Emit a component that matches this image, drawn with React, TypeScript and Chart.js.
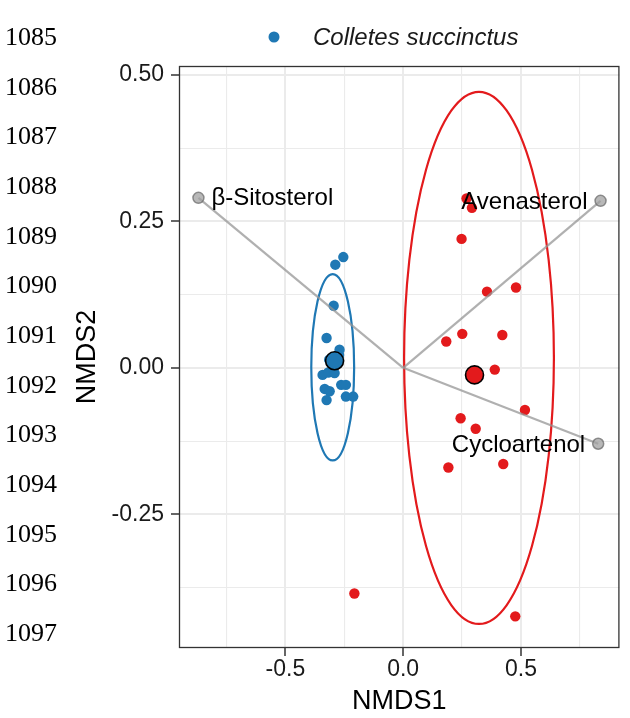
import React, { useEffect, useRef } from "react";
import { Chart, registerables } from "chart.js";

Chart.register(...registerables);

// ---- data ----
const lineNumbers = [1085, 1086, 1087, 1088, 1089, 1090, 1091, 1092, 1093, 1094, 1095, 1096, 1097];

const legendLabel = "Colletes succinctus";

const blueX = [-0.254, -0.288, -0.295, -0.325, -0.270, -0.342, -0.318, -0.291, -0.263, -0.243, -0.333, -0.312, -0.325, -0.243, -0.212, -0.314, -0.272, -0.300];
const blueY = [0.189, 0.176, 0.106, 0.051, 0.031, -0.012, -0.008, -0.009, -0.029, -0.029, -0.036, -0.040, -0.055, -0.049, -0.049, 0.014, 0.022, 0.005];

const redX = [0.269, 0.292, 0.248, 0.356, 0.479, 0.183, 0.251, 0.421, 0.389, 0.517, 0.244, 0.308, 0.192, 0.425, -0.207, 0.476];
const redY = [0.289, 0.273, 0.220, 0.130, 0.137, 0.045, 0.058, 0.056, -0.003, -0.072, -0.086, -0.104, -0.170, -0.164, -0.385, -0.424];

const centroidX = [-0.291, 0.303];
const centroidY = [0.012, -0.012];

const vectorNames = ["β-Sitosterol", "Avenasterol", "Cycloartenol"];
const vectorX = [-0.869, 0.838, 0.828];
const vectorY = [0.290, 0.285, -0.1295];

const ellipseCX = [-0.299, 0.322];
const ellipseCY = [0.001, 0.017];
const ellipseRX = [0.091, 0.318];
const ellipseRY = [0.159, 0.454];

const xMajorTicks = [-0.5, 0, 0.5];
const xMinorTicks = [-0.75, -0.25, 0.25, 0.75];
const yMajorTicks = [-0.25, 0, 0.25, 0.5];
const yMinorTicks = [-0.375, -0.125, 0.125, 0.375];

const X_MIN = -0.9515;
const X_MAX = 0.918;
const Y_MIN = -0.478;
const Y_MAX = 0.515;

const BLUE = "#1F78B4";
const RED = "#E31A1C";
const groupColors = [BLUE, RED];

const SANS = "'Liberation Sans', Arial, sans-serif";

const ellipsePlugin = {
  id: "ellipses",
  beforeDatasetsDraw(chart: any) {
    const { ctx, chartArea, scales } = chart;
    const xs = scales.x;
    const ys = scales.y;
    ctx.save();
    ctx.beginPath();
    ctx.rect(chartArea.left, chartArea.top, chartArea.right - chartArea.left, chartArea.bottom - chartArea.top);
    ctx.clip();
    for (let i = 0; i < ellipseCX.length; i++) {
      const cx = xs.getPixelForValue(ellipseCX[i]);
      const cy = ys.getPixelForValue(ellipseCY[i]);
      const rx = Math.abs(xs.getPixelForValue(ellipseCX[i] + ellipseRX[i]) - cx);
      const ry = Math.abs(ys.getPixelForValue(ellipseCY[i] + ellipseRY[i]) - cy);
      ctx.beginPath();
      ctx.ellipse(cx, cy, rx, ry, 0, 0, Math.PI * 2);
      ctx.strokeStyle = groupColors[i];
      ctx.lineWidth = 2.2;
      ctx.stroke();
    }
    ctx.restore();
  },
  afterDatasetsDraw(chart: any) {
    const { ctx, chartArea, scales } = chart;
    const xs = scales.x;
    const ys = scales.y;
    ctx.save();
    // vector labels
    ctx.font = `24px ${SANS}`;
    ctx.fillStyle = "#000000";
    ctx.textBaseline = "middle";
    for (let i = 0; i < vectorNames.length; i++) {
      const px = xs.getPixelForValue(vectorX[i]);
      const py = ys.getPixelForValue(vectorY[i]);
      if (vectorX[i] < 0) {
        ctx.textAlign = "left";
        ctx.fillText(vectorNames[i], px + 13, py + 1);
      } else {
        ctx.textAlign = "right";
        ctx.fillText(vectorNames[i], px - 13, py + 2);
      }
    }
    // panel border
    ctx.strokeStyle = "#333333";
    ctx.lineWidth = 1.3;
    ctx.strokeRect(chartArea.left + 0.5, chartArea.top + 0.5, chartArea.right - chartArea.left - 1, chartArea.bottom - chartArea.top - 1);
    ctx.restore();
  },
  afterDraw(chart: any) {
    const { ctx } = chart;
    ctx.save();
    ctx.beginPath();
    ctx.arc(274, 37, 5.5, 0, Math.PI * 2);
    ctx.fillStyle = BLUE;
    ctx.fill();
    ctx.font = `italic 24px ${SANS}`;
    ctx.fillStyle = "#1a1a1a";
    ctx.textAlign = "left";
    ctx.textBaseline = "middle";
    ctx.fillText(legendLabel, 313, 38);
    ctx.restore();
  },
};

function pts(xs: number[], ys: number[]) {
  return xs.map((x, i) => ({ x, y: ys[i] }));
}

export default function App() {
  const canvasRef = useRef<HTMLCanvasElement | null>(null);

  useEffect(() => {
    document.body.style.margin = "0";
    const canvas = canvasRef.current;
    if (!canvas) return;

    const segmentDatasets = vectorNames.map((name, i) => ({
      label: name,
      data: [
        { x: 0, y: 0 },
        { x: vectorX[i], y: vectorY[i] },
      ],
      showLine: true,
      borderColor: "rgba(150,150,150,0.75)",
      borderWidth: 2.2,
      pointRadius: (c: any) => (c.dataIndex === 1 ? 5.5 : 0),
      pointBackgroundColor: "rgba(160,160,160,0.75)",
      pointBorderColor: "rgba(110,110,110,0.75)",
      pointBorderWidth: 1.5,
      order: 0,
    }));

    const centroidDatasets = centroidX.map((cx, i) => ({
      label: i === 0 ? "centroid blue" : "centroid red",
      data: [{ x: cx, y: centroidY[i] }],
      pointRadius: 9,
      pointBackgroundColor: groupColors[i],
      pointBorderColor: "#000000",
      pointBorderWidth: 1.6,
      showLine: false,
      order: 1,
    }));

    const chart = new Chart(canvas, {
      type: "scatter",
      data: {
        datasets: [
          ...segmentDatasets,
          ...centroidDatasets,
          {
            label: legendLabel,
            data: pts(blueX, blueY),
            pointRadius: 5.2,
            pointBackgroundColor: BLUE,
            pointBorderWidth: 0,
            order: 2,
          },
          {
            label: "red group",
            data: pts(redX, redY),
            pointRadius: 5.2,
            pointBackgroundColor: RED,
            pointBorderWidth: 0,
            order: 2,
          },
        ] as any,
      },
      options: {
        animation: false,
        responsive: false,
        devicePixelRatio: 1,
        events: [],
        layout: { padding: { top: 66, left: 0, right: 0, bottom: 0 } },
        plugins: {
          legend: { display: false },
          tooltip: { enabled: false },
        },
        scales: {
          x: {
            type: "linear",
            min: X_MIN,
            max: X_MAX,
            afterBuildTicks: (scale: any) => {
              scale.ticks = [...xMinorTicks, ...xMajorTicks]
                .sort((a, b) => a - b)
                .map((v) => ({ value: v }));
            },
            afterFit: (scale: any) => {
              scale.height = 70;
            },
            ticks: {
              callback: (v: any) => (xMajorTicks.includes(Number(v)) ? Number(v).toFixed(1) : ""),
              font: { size: 23, family: SANS },
              color: "#1a1a1a",
              padding: 0,
              maxRotation: 0,
              autoSkip: false,
            },
            grid: {
              color: "#EBEBEB",
              lineWidth: (c: any) => (xMajorTicks.includes(c.tick?.value) ? 2 : 1.1),
              tickColor: (c: any) => (xMajorTicks.includes(c.tick?.value) ? "#333333" : "rgba(0,0,0,0)"),
              tickLength: 8,
              tickWidth: 1.5,
            },
            border: { display: false },
            title: {
              display: true,
              text: "NMDS1",
              font: { size: 27, family: SANS },
              color: "#000000",
              padding: { top: 0, bottom: 0 },
            },
          },
          y: {
            type: "linear",
            min: Y_MIN,
            max: Y_MAX,
            afterBuildTicks: (scale: any) => {
              scale.ticks = [...yMinorTicks, ...yMajorTicks]
                .sort((a, b) => a - b)
                .map((v) => ({ value: v }));
            },
            afterFit: (scale: any) => {
              scale.width = 179;
            },
            ticks: {
              callback: (v: any) => (yMajorTicks.includes(Number(v)) ? Number(v).toFixed(2) : ""),
              font: { size: 23, family: SANS },
              color: "#1a1a1a",
              padding: 7,
              autoSkip: false,
            },
            grid: {
              color: "#EBEBEB",
              lineWidth: (c: any) => (yMajorTicks.includes(c.tick?.value) ? 2 : 1.1),
              tickColor: (c: any) => (yMajorTicks.includes(c.tick?.value) ? "#333333" : "rgba(0,0,0,0)"),
              tickLength: 8,
              tickWidth: 1.5,
            },
            border: { display: false },
            title: {
              display: true,
              text: "NMDS2",
              font: { size: 27, family: SANS },
              color: "#000000",
              padding: { top: 71, bottom: 0 },
            },
          },
        },
      },
      plugins: [ellipsePlugin],
    });

    return () => {
      chart.destroy();
    };
  }, []);

  return (
    <div style={{ position: "absolute", left: 0, top: 0, width: 630, height: 718, background: "#ffffff", overflow: "hidden" }}>
      <canvas ref={canvasRef} width={630} height={718} style={{ position: "absolute", left: 0, top: 0 }} />
      {lineNumbers.map((n, i) => (
        <div
          key={n}
          style={{
            position: "absolute",
            left: 5,
            top: 37 + i * 49.67 - 13,
            fontFamily: "'Liberation Serif', 'Times New Roman', serif",
            fontSize: 26,
            lineHeight: "26px",
            color: "#000000",
          }}
        >
          {n}
        </div>
      ))}
    </div>
  );
}
